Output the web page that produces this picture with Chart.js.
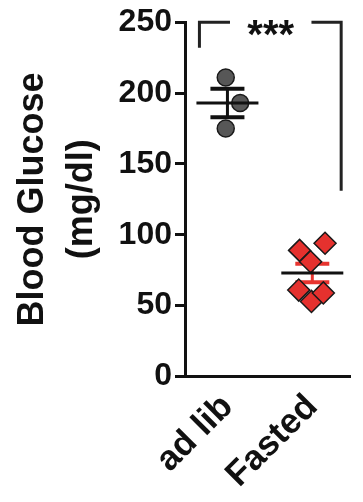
<!DOCTYPE html>
<html lang="en">
<head>
  <meta charset="UTF-8" />
  <title>Blood Glucose</title>
  <script src="https://cdn.jsdelivr.net/npm/chart.js"></script>
  <style>
    body { margin: 0; background: #fff; }
    .chart-box { width: 363px; height: 502px; position: relative; }
  </style>
</head>
<body>
  <div class="chart-box">
    <canvas id="glucoseChart"></canvas>
  </div>

  <script>
    // values
    const groups = ['ad lib', 'Fasted'];
    const yTicks = [0, 50, 100, 150, 200, 250];

    const adLibX = [-0.02, 0.15, -0.02];
    const adLibY = [211, 193, 175];
    const fastedX = [0.85, 1.15, 0.98, 0.84, 0.99, 1.13];
    const fastedY = [89, 94, 81, 61, 53, 59];

    const groupMean = [193, 73];
    const groupSem = [10, 6.5];

    // significance bracket: x ends, gap for the stars, y level, where the legs stop
    const bracketX = [-0.33, 1.34];
    const bracketGap = [0.03, 0.99];
    const bracketY = 250;
    const bracketLegs = [232, 131];
    const bracketLabel = '***';

    const FONT = '"Liberation Sans", Arial, sans-serif';
    const semColor = ['#111', '#e8342f'];

    const statsPlugin = {
      id: 'stats',
      beforeDatasetsDraw(chart) {
        const { ctx, scales: { x, y } } = chart;
        ctx.save();
        groupMean.forEach((m, i) => {
          const cx = x.getPixelForValue(i);
          const top = y.getPixelForValue(m + groupSem[i]);
          const bot = y.getPixelForValue(m - groupSem[i]);
          ctx.strokeStyle = semColor[i];
          ctx.lineWidth = 3;
          ctx.beginPath();
          ctx.moveTo(cx, top);
          ctx.lineTo(cx, bot);
          ctx.stroke();
          ctx.lineWidth = 4;
          ctx.beginPath();
          ctx.moveTo(cx - 17, top); ctx.lineTo(cx + 17, top);
          ctx.moveTo(cx - 17, bot); ctx.lineTo(cx + 17, bot);
          ctx.stroke();
        });
        ctx.restore();
      },
      afterDatasetsDraw(chart) {
        const { ctx, scales: { x, y } } = chart;
        ctx.save();
        // mean lines
        ctx.strokeStyle = '#111';
        ctx.lineWidth = 3;
        groupMean.forEach((m, i) => {
          const cx = x.getPixelForValue(i);
          const py = y.getPixelForValue(m);
          ctx.beginPath();
          ctx.moveTo(cx - 31, py);
          ctx.lineTo(cx + 31, py);
          ctx.stroke();
        });

        // bracket
        const by = y.getPixelForValue(bracketY);
        const x0 = x.getPixelForValue(bracketX[0]);
        const x1 = x.getPixelForValue(bracketX[1]);
        const g0 = x.getPixelForValue(bracketGap[0]);
        const g1 = x.getPixelForValue(bracketGap[1]);
        ctx.strokeStyle = '#222';
        ctx.lineWidth = 3;
        ctx.beginPath();
        ctx.moveTo(x0, y.getPixelForValue(bracketLegs[0]));
        ctx.lineTo(x0, by);
        ctx.lineTo(g0, by);
        ctx.moveTo(g1, by);
        ctx.lineTo(x1, by);
        ctx.lineTo(x1, y.getPixelForValue(bracketLegs[1]));
        ctx.stroke();

        ctx.fillStyle = '#111';
        ctx.font = 'bold 40px ' + FONT;
        ctx.textAlign = 'center';
        ctx.textBaseline = 'middle';
        ctx.fillText(bracketLabel, (g0 + g1) / 2, by + 15);
        ctx.restore();
      }
    };

    new Chart(document.getElementById('glucoseChart'), {
      type: 'scatter',
      data: {
        datasets: [
          {
            label: groups[0],
            data: adLibX.map((v, i) => ({ x: v, y: adLibY[i] })),
            pointStyle: 'circle',
            pointRadius: 8.5,
            pointHoverRadius: 8.5,
            backgroundColor: '#575757',
            borderColor: '#1a1a1a',
            borderWidth: 1.5
          },
          {
            label: groups[1],
            data: fastedX.map((v, i) => ({ x: v, y: fastedY[i] })),
            pointStyle: 'rectRot',
            pointRadius: 11,
            pointHoverRadius: 11,
            backgroundColor: '#e5312e',
            borderColor: '#1a1a1a',
            borderWidth: 1.5
          }
        ]
      },
      options: {
        responsive: true,
        maintainAspectRatio: false,
        animation: false,
        layout: { padding: { top: 6, right: 0, bottom: 4, left: 7 } },
        plugins: {
          legend: { display: false },
          tooltip: { enabled: false }
        },
        scales: {
          x: {
            type: 'linear',
            min: -0.5,
            max: 1.45,
            afterBuildTicks: axis => { axis.ticks = groups.map((g, i) => ({ value: i })); },
            ticks: {
              callback: v => groups[v],
              minRotation: 45,
              maxRotation: 45,
              color: '#111',
              padding: 2,
              font: { family: FONT, size: 35, weight: 'bold' }
            },
            grid: { display: false },
            border: { display: true, color: '#111', width: 3 }
          },
          y: {
            min: 0,
            max: 250,
            afterBuildTicks: axis => { axis.ticks = yTicks.map(v => ({ value: v })); },
            ticks: {
              color: '#111',
              padding: 3,
              font: { family: FONT, size: 32, weight: 'bold' }
            },
            grid: {
              display: true,
              drawOnChartArea: false,
              drawTicks: true,
              tickLength: 10,
              tickWidth: 3,
              tickColor: '#111'
            },
            border: { display: true, color: '#111', width: 3 },
            title: {
              display: true,
              text: ['Blood Glucose', '(mg/dl)'],
              color: '#111',
              padding: { top: 2, bottom: 18 },
              font: { family: FONT, size: 36, weight: 'bold', lineHeight: 1.35 }
            }
          }
        }
      },
      plugins: [statsPlugin]
    });
  </script>
</body>
</html>
